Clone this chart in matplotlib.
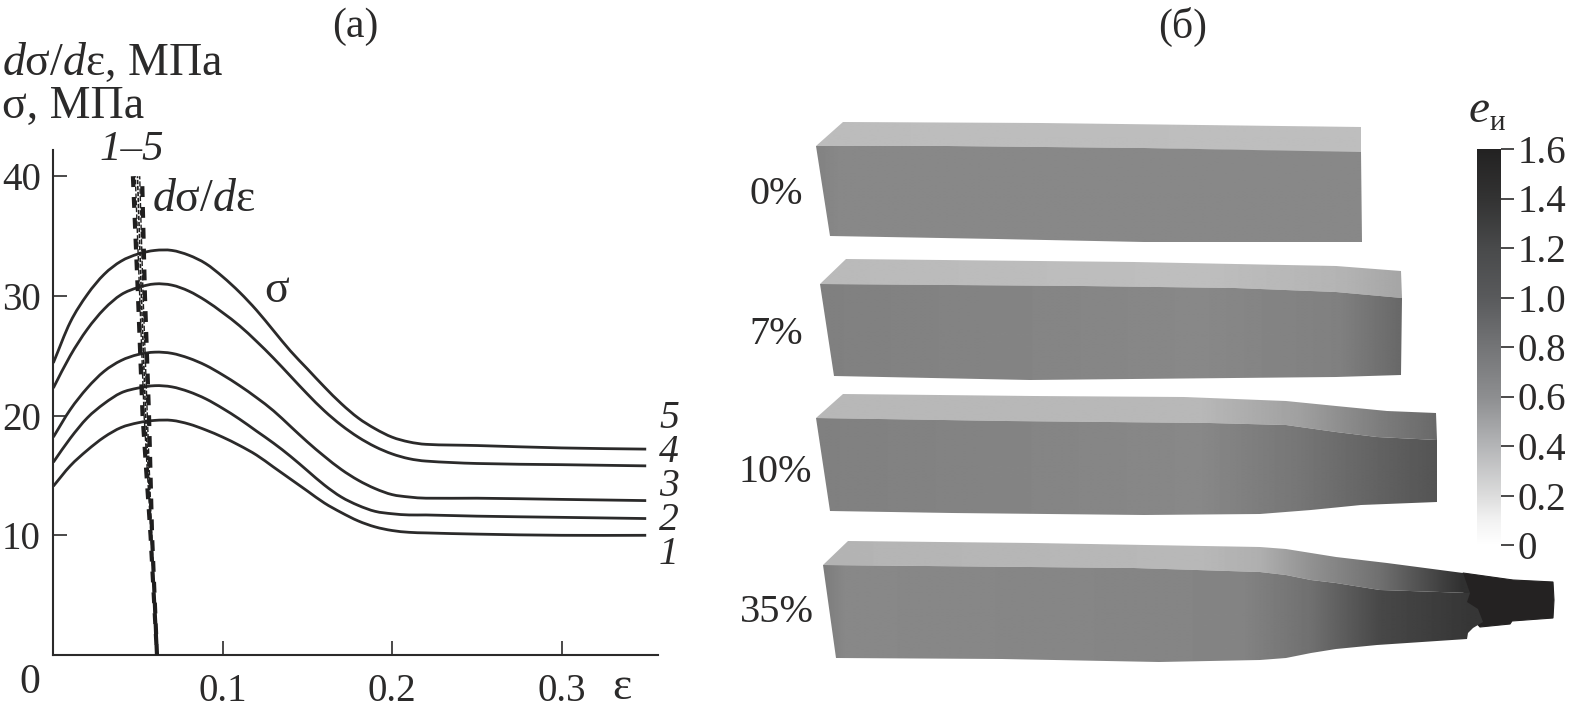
import numpy as np
import matplotlib
matplotlib.use('Agg')
import matplotlib.pyplot as plt
from matplotlib.colors import LinearSegmentedColormap
from matplotlib.patches import Polygon, PathPatch
from matplotlib.path import Path

plt.rcParams['font.family'] = ['Liberation Serif', 'DejaVu Serif']
plt.rcParams['mathtext.fontset'] = 'custom'
plt.rcParams['mathtext.rm'] = 'Liberation Serif'
plt.rcParams['mathtext.it'] = 'Liberation Serif:italic'

W, H = 1571, 712
INK = '#2b2a2a'
FS = 33     # headings
FS_NUM = 28 # numbers

# --- panel (a): stress curves ---
eps = [0, .01, .02, .03, .04, .05, .06, .07, .08, .09, .10, .11, .12, .13,
       .14, .15, .16, .17, .18, .19, .20, .21, .22, .25, .30, .35]
sigma_1 = [14.1, 15.8, 17.1, 18.2, 19.0, 19.4, 19.6, 19.6, 19.3, 18.8, 18.2, 17.5, 16.7,
           15.7, 14.7, 13.7, 12.7, 11.9, 11.2, 10.7, 10.4, 10.25, 10.2, 10.1, 10.0, 10.0]
sigma_2 = [16.1, 18.1, 19.8, 21.0, 21.9, 22.3, 22.5, 22.4, 22.0, 21.4, 20.6, 19.7, 18.7,
           17.7, 16.6, 15.4, 14.2, 13.2, 12.5, 12.0, 11.8, 11.7, 11.7, 11.6, 11.5, 11.4]
sigma_3 = [18.2, 20.5, 22.3, 23.7, 24.6, 25.1, 25.3, 25.2, 24.8, 24.2, 23.4, 22.5, 21.5,
           20.4, 19.1, 17.8, 16.6, 15.5, 14.6, 13.9, 13.4, 13.2, 13.1, 13.1, 13.0, 12.9]
sigma_4 = [22.3, 25.0, 27.2, 28.9, 30.1, 30.7, 31.0, 30.9, 30.4, 29.6, 28.6, 27.5, 26.2,
           24.8, 23.3, 21.8, 20.4, 19.2, 18.2, 17.4, 16.8, 16.4, 16.2, 16.0, 15.9, 15.8]
sigma_5 = [24.4, 27.8, 30.1, 31.8, 32.9, 33.5, 33.8, 33.8, 33.4, 32.7, 31.6, 30.3, 28.8,
           27.1, 25.4, 23.9, 22.4, 21.0, 19.8, 18.9, 18.2, 17.8, 17.6, 17.5, 17.3, 17.2]
curves = [sigma_1, sigma_2, sigma_3, sigma_4, sigma_5]

# d(sigma)/d(eps) bundle, eps read at these heights
hard_y = [40, 30, 20, 10, 0]
hard_1 = [.0470, .0500, .0527, .0574, .0612]
hard_2 = [.0484, .0510, .0536, .0577, .0612]
hard_3 = [.0497, .0520, .0545, .0579, .0612]
hard_4 = [.0510, .0530, .0555, .0581, .0612]
hard_5 = [.0524, .0541, .0565, .0583, .0612]
hard_lines = [hard_1, hard_2, hard_3, hard_4, hard_5]

x_ticks = [.1, .2, .3]
x_tick_labels = ['0.1', '0.2', '0.3']
y_ticks = [10, 20, 30, 40]

# --- panel (b): colour bar ---
bar_vals = [0, .1, .2, .4, .6, .8, 1.0, 1.2, 1.4, 1.6]
bar_greys = ['#ffffff', '#f2f2f2', '#dcdcdc', '#b4b5b7', '#8d8e90', '#747577',
             '#595a5c', '#494a4b', '#333333', '#232222']
bar_ticks = [0, .2, .4, .6, .8, 1.0, 1.2, 1.4, 1.6]
bar_tick_labels = ['0', '0.2', '0.4', '0.6', '0.8', '1.0', '1.2', '1.4', '1.6']

# --- panel (b): specimen outlines in picture pixels, grey shade along x ---
top_0 = [(816, 146), (843, 122), (1040, 123), (1361, 127), (1361, 153), (1144, 148), (947, 146)]
front_0 = [(816, 146), (947, 146), (1144, 148), (1361, 152), (1362, 242), (1144, 242), (997, 239), (830, 236)]
top_7 = [(820, 284), (846, 259), (1134, 262), (1336, 266), (1401, 271), (1402, 298), (1336, 292), (1235, 288), (1083, 286)]
front_7 = [(820, 284), (1083, 286), (1235, 288), (1336, 292), (1402, 298), (1401, 375), (1336, 377), (1030, 380), (834, 376)]
top_10 = [(816, 418), (843, 394), (1033, 396), (1184, 397), (1286, 401), (1336, 406), (1387, 411), (1436, 413),
          (1437, 440), (1377, 437), (1336, 432), (1286, 425), (1210, 423), (1007, 421)]
front_10 = [(816, 418), (1007, 421), (1210, 423), (1286, 425), (1336, 432), (1377, 437), (1437, 440),
            (1437, 502), (1361, 505), (1311, 510), (1260, 514), (1144, 515), (952, 513), (830, 511)]
top_35 = [(823, 565), (848, 541), (1033, 543), (1260, 547), (1286, 549), (1311, 553), (1336, 557), (1387, 563), (1463, 573),
          (1470, 593), (1380, 590), (1361, 587), (1336, 583), (1311, 580), (1286, 575), (1260, 572), (1134, 568)]
front_35 = [(823, 565), (1134, 568), (1260, 572), (1286, 575), (1311, 580), (1336, 583), (1361, 587), (1380, 590), (1470, 593),
            (1467, 602), (1478, 609), (1483, 622), (1473, 628), (1468, 633), (1467, 639), (1377, 645), (1336, 649),
            (1311, 653), (1286, 658), (1260, 660), (1159, 662), (1002, 659), (836, 658)]
tail_35 = [(1463, 573), (1513, 580), (1553, 582), (1554, 600), (1553, 618), (1512, 621), (1510, 624), (1480, 627), (1465, 610)]

top_x = [[843, 1361], [846, 1200, 1340, 1402], [843, 1200, 1300, 1380, 1437], [848, 1200, 1260, 1311, 1380, 1463]]
top_g = [[188, 190], [186, 190, 180, 165], [184, 184, 160, 125, 105], [180, 184, 175, 145, 112, 48]]
front_x = [[816, 840, 1361], [820, 1200, 1340, 1402], [816, 1200, 1300, 1380, 1437], [823, 845, 1240, 1311, 1380, 1470]]
front_g = [[130, 136, 136], [128, 136, 128, 104], [128, 136, 118, 98, 84], [124, 136, 132, 112, 72, 54]]

percent_labels = ['0%', '7%', '10%', '35%']
percent_pos = [(776, 195), (776, 335), (775, 473), (777, 613)]
curve_labels = ['1', '2', '3', '4', '5']
curve_label_pos = [(669, 554), (669, 520), (669, 487), (669, 452), (669, 419)]


def smooth_path(xs, ys):
    # Catmull-Rom through the read points, as bezier segments
    p = np.column_stack([xs, ys]).astype(float)
    verts = [p[0]]
    codes = [Path.MOVETO]
    for i in range(len(p) - 1):
        p0 = p[max(i - 1, 0)]
        p3 = p[min(i + 2, len(p) - 1)]
        h = p[i + 1][0] - p[i][0]
        m1 = (p[i + 1] - p0) / max(p[i + 1][0] - p0[0], 1e-9) * h / 3
        m2 = (p3 - p[i]) / max(p3[0] - p[i][0], 1e-9) * h / 3
        verts += [p[i] + m1, p[i + 1] - m2, p[i + 1]]
        codes += [Path.CURVE4] * 3
    return Path(verts, codes)


fig = plt.figure(figsize=(W / 100, H / 100), dpi=100)

# overlay in pixel coordinates for the specimens and loose labels
bg = fig.add_axes([0, 0, 1, 1])
bg.axis('off')

bg.add_patch(Polygon(tail_35, closed=True, fc='#242222', ec='#242222', lw=0.8, zorder=1))
for i, (top, front) in enumerate(zip([top_0, top_7, top_10, top_35], [front_0, front_7, front_10, front_35])):
    for outline, xs, gs in [(top, top_x[i], top_g[i]), (front, front_x[i], front_g[i])]:
        xmin = min(p[0] for p in outline)
        xmax = max(p[0] for p in outline)
        ymin = min(p[1] for p in outline)
        ymax = max(p[1] for p in outline)
        shade = np.interp(np.arange(xmin, xmax + 1), xs, gs)[None, :]
        im = bg.imshow(shade, cmap='gray', vmin=0, vmax=255, aspect='auto',
                       extent=(xmin, xmax, ymax, ymin), interpolation='bilinear', zorder=2)
        poly = Polygon(outline, closed=True, transform=bg.transData, fc='none', ec='none')
        bg.add_patch(poly)
        im.set_clip_path(poly)
bg.set_xlim(0, W)
bg.set_ylim(H, 0)

for lab, (px, py) in zip(percent_labels, percent_pos):
    bg.text(px, py, lab, fontsize=29, ha='center', va='center', color=INK)
for lab, (px, py) in zip(curve_labels, curve_label_pos):
    bg.text(px, py, lab, fontsize=28.5, style='italic', ha='center', va='center', color=INK)

bg.text(355, 27, '(а)', fontsize=30, ha='center', va='center', color=INK)
bg.text(1183, 27, '(б)', fontsize=30, ha='center', va='center', color=INK)
bg.text(2, 63, r'$\mathit{d}$σ/$\mathit{d}$ε, МПа', fontsize=FS, ha='left', va='center', color=INK)
bg.text(2, 107, 'σ, МПа', fontsize=FS, ha='left', va='center', color=INK)
bg.text(132, 150, '1–5', fontsize=31, style='italic', ha='center', va='center', color=INK)
bg.text(152, 200, r'$\mathit{d}$σ/$\mathit{d}$ε', fontsize=FS, ha='left', va='center', color=INK)
bg.text(277, 291, 'σ', fontsize=FS, ha='center', va='center', color=INK)
bg.text(30, 683, '0', fontsize=30, ha='center', va='center', color=INK)
bg.text(622, 688, 'ε', fontsize=FS, ha='center', va='center', color=INK)
bg.text(1469, 111, 'e', fontsize=FS + 1, style='italic', ha='left', va='center', color=INK)
bg.text(1490, 123, 'и', fontsize=21, ha='left', va='center', color=INK)

# panel (a)
ax = fig.add_axes([53.3 / W, (H - 655) / H, (658 - 53.3) / W, (655 - 150) / H])
ax.patch.set_alpha(0)
ax.set_xlim(0, (658 - 53.3) / 1694)
ax.set_ylim(0, (655 - 150) / 11.97)
for s in curves:
    ax.add_patch(PathPatch(smooth_path(eps, s), fc='none', ec=INK, lw=2.0, zorder=3))
# outer strands zigzag in blobs, inner ones stay thin
for h, off, dash, lw in zip(hard_lines, [0, 2.5, 5, 1.5, 2.6],
                            [(2.6, 2.4), (3.4, 1.6), (2.6, 1.0), (3.8, 1.4), (2.6, 2.4)],
                            [3.0, 1.0, 1.2, 1.0, 3.0]):
    ax.plot(h, hard_y, color='#1f1e1e', lw=lw, ls=(off, dash), zorder=4)
for name in ['top', 'right']:
    ax.spines[name].set_visible(False)
for name in ['left', 'bottom']:
    ax.spines[name].set_linewidth(1.5)
    ax.spines[name].set_color(INK)
ax.set_xticks(x_ticks)
ax.set_xticklabels(x_tick_labels)
ax.set_yticks(y_ticks)
ax.tick_params(axis='both', direction='in', length=10, width=1.2, color=INK,
               labelcolor=INK, labelsize=FS_NUM)
ax.tick_params(axis='x', pad=13)
ax.tick_params(axis='y', pad=9)

# colour bar
cax = fig.add_axes([1477 / W, (H - 545) / H, 24 / W, (545 - 149) / H])
bar_cmap = LinearSegmentedColormap.from_list('bar', [(v / 1.6, c) for v, c in zip(bar_vals, bar_greys)])
cax.imshow(np.linspace(1.6, 0, 256)[:, None], cmap=bar_cmap, vmin=0, vmax=1.6, aspect='auto',
           extent=(0, 1, 0, 1.6))
for s in cax.spines.values():
    s.set_visible(False)
cax.set_xticks([])
cax.yaxis.tick_right()
cax.set_yticks(bar_ticks)
cax.set_yticklabels(bar_tick_labels)
cax.tick_params(axis='y', direction='out', length=9, width=1.2, color=INK, labelcolor=INK,
                labelsize=FS_NUM, pad=3)

fig.savefig('out.png', dpi=100)
